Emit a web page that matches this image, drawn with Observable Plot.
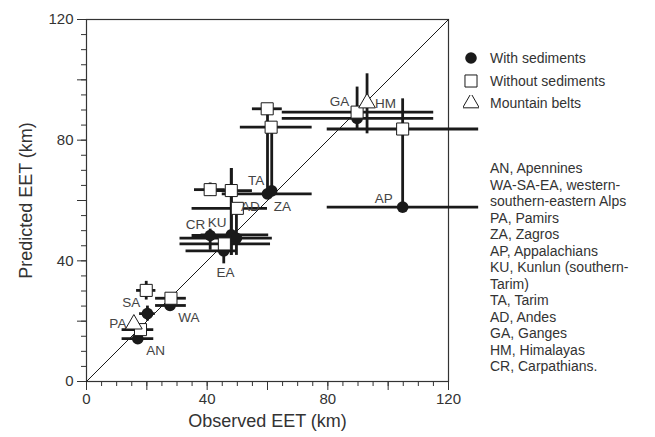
<!DOCTYPE html>
<html><head><meta charset="utf-8">
<script src="https://cdn.jsdelivr.net/npm/d3@7"></script>
<script src="https://cdn.jsdelivr.net/npm/@observablehq/plot@0.6"></script>
<style>
body{margin:0;background:#fff;}
#wrap{position:relative;width:655px;height:437px;font-family:"Liberation Sans",Arial,sans-serif;color:#333;}
#legend{position:absolute;left:463px;top:47px;font-size:14px;}
#legend div{height:22.5px;display:flex;align-items:center;}
#legend svg{margin-right:11px;}
#notes{position:absolute;left:490px;top:160px;font-size:14px;line-height:16.5px;white-space:nowrap;}
</style></head><body>
<div id="wrap"><div id="chart"></div><div id="legend"></div><div id="notes"></div></div>
<script>
// region, observed EET, predicted EET, observed low, observed high, predicted low, predicted high
const withSediments = [
  ["AN", 17.0, 14.2, 11.8, 22.3, null, null],
  ["SA", 20.2, 22.5, 17.6, 22.8, 20.0, 25.0],
  ["WA", 27.7, 25.2, 22.9, 33.1, null, null],
  ["EA", 45.5, 43.3, 33.0, 50.0, 39.0, 46.0],
  ["CR", 41.0, 48.4, 35.0, 51.0, 43.5, 50.5],
  ["KU", 48.0, 48.6, 38.0, 60.4, 41.8, 70.6],
  ["AD", 49.7, 47.5, 31.0, 61.6, 41.8, 57.4],
  ["TA", 60.0, 62.2, 45.0, 74.8, 62.2, 90.4],
  ["ZA", 61.4, 63.2, null, null, 63.2, 84.3],
  ["GA", 89.7, 87.2, 64.9, 115.1, null, null],
  ["AP", 104.8, 57.8, 79.8, 130.0, 57.8, 93.7]
];
const withoutSediments = [
  ["AN", 17.9, 17.2, 11.8, 22.3, null, null],
  ["SA", 19.8, 30.2, 16.6, 23.0, 27.0, 33.2],
  ["WA", 28.0, 27.6, 22.9, 33.1, null, null],
  ["EA", 45.7, 45.6, 31.0, 61.0, null, null],
  ["CR", 41.0, 63.6, 35.8, 46.0, 61.4, 65.8],
  ["KU", 48.0, 63.3, 41.0, 55.0, 41.8, 70.6],
  ["AD", 50.0, 57.4, 35.0, 60.0, null, null],
  ["TA", 59.9, 90.4, 55.0, 64.9, null, null],
  ["ZA", 61.2, 84.3, 51.0, 74.8, null, null],
  ["GA", 89.7, 89.3, 64.9, 115.1, 83.2, 97.6],
  ["AP", 104.8, 83.7, 79.8, 130.0, null, null]
];
const mountainBelts = [
  ["PA", 15.7, 19.0, null, null, null, null],
  ["HM", 93.0, 92.3, null, null, 82.1, 102.0]
];
// point labels: text, observed, predicted (annotation anchors)
const pointLabels = [
  ["AN", 22.9, 10.3], ["SA", 14.8, 26.0], ["PA", 10.4, 19.3], ["WA", 33.9, 21.3],
  ["EA", 46.1, 36.2], ["CR", 36.1, 51.9], ["KU", 43.3, 52.6], ["TA", 56.2, 66.6],
  ["AD", 54.3, 57.9], ["ZA", 64.9, 57.9], ["GA", 83.9, 92.6], ["HM", 99.1, 92.0],
  ["AP", 98.5, 60.6]
];
const axisDomain = [0, 120];
const minorTicks = d3.range(0, 121, 5);
const majorTicks = d3.range(0, 121, 20);
const tickLabels = [0, 40, 80, 120];
const xTitle = "Observed EET (km)";
const yTitle = "Predicted EET (km)";
const legendEntries = [["With sediments", "circle"], ["Without sediments", "square"], ["Mountain belts", "triangle"]];
const regionNotes = [
  "AN, Apennines", "WA-SA-EA, western-", "southern-eastern Alps", "PA, Pamirs",
  "ZA, Zagros", "AP, Appalachians", "KU, Kunlun (southern-", "Tarim)", "TA, Tarim",
  "AD, Andes", "GA, Ganges", "HM, Himalayas", "CR, Carpathians."
];

const toRows = arr => arr.map(([region, x, y, xlo, xhi, ylo, yhi]) => ({region, x, y, xlo, xhi, ylo, yhi}));
const W = toRows(withSediments), WO = toRows(withoutSediments), MB = toRows(mountainBelts);
const all = [...W, ...WO, ...MB];
const hBars = all.filter(d => d.xlo != null);
const vBars = all.filter(d => d.ylo != null);
const ink = "#1a1a1a";
const rCircle = 5.8, rSquare = 6.8, rTriangle = 6.2;

const chart = Plot.plot({
  width: 655, height: 437,
  marginLeft: 86, marginRight: 207, marginTop: 19, marginBottom: 56,
  x: {domain: axisDomain},
  y: {domain: axisDomain},
  style: {fontFamily: '"Liberation Sans", Arial, sans-serif', fontSize: "15px", color: "#333", background: "white", overflow: "visible"},
  marks: [
    Plot.frame({stroke: "#333", strokeWidth: 1.2}),
    Plot.axisX(minorTicks, {tickSize: 5, tickFormat: () => "", label: null, stroke: "#333"}),
    Plot.axisX(majorTicks, {tickSize: 9, tickPadding: 3, tickFormat: d => tickLabels.includes(d) ? String(d) : "", label: null, fontSize: 15, stroke: "#333"}),
    Plot.axisY(minorTicks, {tickSize: 5, tickFormat: () => "", label: null, stroke: "#333"}),
    Plot.axisY(majorTicks, {tickSize: 9, tickPadding: 4, tickFormat: d => tickLabels.includes(d) ? String(d) : "", label: null, fontSize: 15, stroke: "#333"}),
    Plot.text([xTitle], {frameAnchor: "bottom", dy: 40, text: d => d, fontSize: 18, fill: "#333", lineAnchor: "middle"}),
    Plot.text([yTitle], {frameAnchor: "left", dx: -60, rotate: -90, text: d => d, fontSize: 18, fill: "#333", textAnchor: "middle", lineAnchor: "middle"}),
    Plot.line(axisDomain.map(v => [v, v]), {stroke: ink, strokeWidth: 1}),
    Plot.ruleY(hBars, {y: "y", x1: "xlo", x2: "xhi", stroke: ink, strokeWidth: 2.8}),
    Plot.ruleX(vBars, {x: "x", y1: "ylo", y2: "yhi", stroke: ink, strokeWidth: 2.8}),
    Plot.dot(W, {x: "x", y: "y", r: rCircle, fill: ink, stroke: "none"}),
    Plot.dot(WO, {x: "x", y: "y", symbol: "square", r: rSquare, fill: "white", stroke: ink, strokeWidth: 1}),
    Plot.dot(MB, {x: "x", y: "y", symbol: "triangle", r: rTriangle, fill: "white", stroke: ink, strokeWidth: 1}),
    Plot.text(pointLabels, {x: d => d[1], y: d => d[2], text: d => d[0], fontSize: 13.5, fill: "#444", textAnchor: "middle", lineAnchor: "middle"})
  ]
});
document.getElementById("chart").appendChild(chart);

const sym = {circle: d3.symbolCircle, square: d3.symbolSquare, triangle: d3.symbolTriangle};
const symSize = {circle: rCircle * rCircle * Math.PI, square: rSquare * rSquare * Math.PI, triangle: rTriangle * rTriangle * Math.PI};
const leg = document.getElementById("legend");
for (const [label, s] of legendEntries) {
  const row = document.createElement("div");
  const path = d3.symbol(sym[s], symSize[s])();
  const fill = s === "circle" ? ink : "white";
  const stroke = s === "circle" ? "none" : ink;
  row.innerHTML = `<svg width="16" height="16" viewBox="-8 -8 16 16"><path d="${path}" fill="${fill}" stroke="${stroke}"/></svg><span>${label}</span>`;
  leg.appendChild(row);
}
document.getElementById("notes").innerHTML = regionNotes.map(t => `<div>${t}</div>`).join("");
</script>
</body></html>
